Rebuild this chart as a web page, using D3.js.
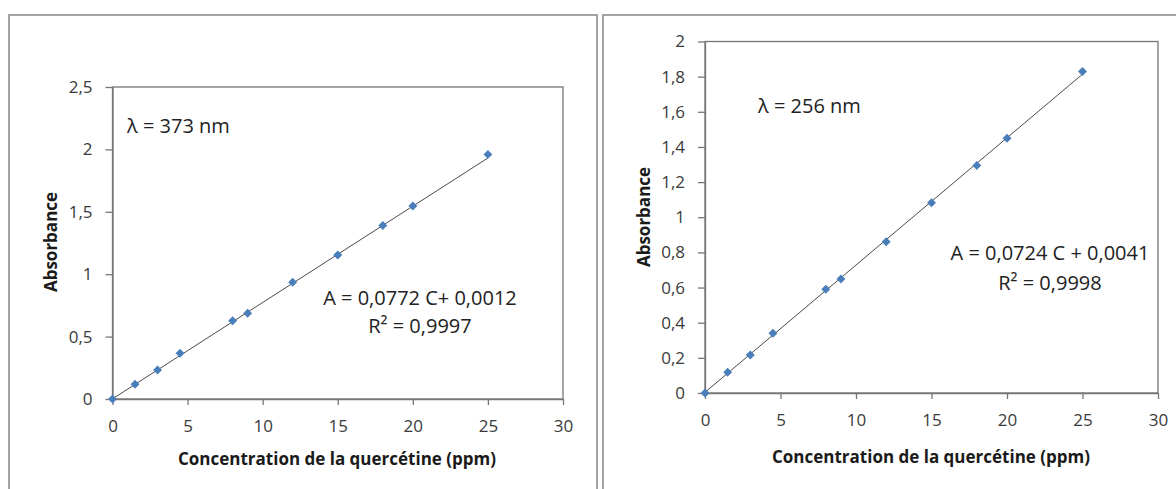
<!DOCTYPE html>
<html>
<head>
<meta charset="utf-8">
<script src="https://cdn.jsdelivr.net/npm/d3@7/dist/d3.min.js"></script>
<style>
  html, body { margin: 0; padding: 0; background: #fff; }
  svg { display: block; }
  text { font-family: "Open Sans", "Noto Sans", sans-serif; }
</style>
</head>
<body>
<svg id="chart" width="1176" height="489"></svg>
<script>
// ---- data ----
const concentration = [0, 1.5, 3, 4.5, 8, 9, 12, 15, 18, 20, 25];
const absorbance373 = [0, 0.118, 0.232, 0.366, 0.627, 0.687, 0.935, 1.154, 1.39, 1.547, 1.96];
const absorbance256 = [0, 0.118, 0.216, 0.34, 0.59, 0.649, 0.861, 1.083, 1.294, 1.45, 1.829];
const xTickValues = [0, 5, 10, 15, 20, 25, 30];
const yTicks373 = [0, 0.5, 1, 1.5, 2, 2.5];
const yTicks256 = [0, 0.2, 0.4, 0.6, 0.8, 1, 1.2, 1.4, 1.6, 1.8, 2];
const fit373 = [0.0772, 0.0012];   // slope, intercept
const fit256 = [0.0724, 0.0041];
const labels373 = ["λ = 373 nm", "A = 0,0772 C+ 0,0012", "R² = 0,9997"];
const labels256 = ["λ = 256 nm", "A = 0,0724 C + 0,0041", "R² = 0,9998"];
const xTitle = "Concentration de la quercétine (ppm)";
const yTitle = "Absorbance";

const svg = d3.select("#chart");
const fmt = d => String(d).replace(".", ",");

// outer chart boxes
svg.append("rect").attr("x", 9).attr("y", 15).attr("width", 588).attr("height", 490)
  .attr("fill", "#fff").attr("stroke", "#a3a3a3").attr("stroke-width", 2);
svg.append("rect").attr("x", 603).attr("y", 15).attr("width", 600).attr("height", 490)
  .attr("fill", "#fff").attr("stroke", "#a3a3a3").attr("stroke-width", 2);

function drawChart(cfg) {
  const x = d3.scaleLinear().domain([0, 30]).range([cfg.left, cfg.right]);
  const y = d3.scaleLinear().domain([0, cfg.yMax]).range([cfg.bottom, cfg.top]);
  const g = svg.append("g");

  // plot frame
  g.append("rect")
    .attr("x", x(0)).attr("y", y(cfg.yMax))
    .attr("width", x(30) - x(0)).attr("height", y(0) - y(cfg.yMax))
    .attr("fill", "none").attr("stroke", "#767676").attr("stroke-width", 1.3);

  const yAxis = g.append("g").attr("transform", `translate(${x(0)},0)`)
    .call(d3.axisLeft(y).tickValues(cfg.yTicks).tickFormat(fmt)
      .tickSize(7).tickSizeOuter(0).tickPadding(13));
  const xAxis = g.append("g").attr("transform", `translate(0,${y(0)})`)
    .call(d3.axisBottom(x).tickValues(xTickValues).tickFormat(fmt)
      .tickSize(6).tickSizeOuter(0).tickPadding(15));
  [xAxis, yAxis].forEach(a => {
    a.select(".domain").attr("stroke", "#767676").attr("stroke-width", 1.3);
    a.selectAll(".tick line").attr("stroke", "#767676").attr("stroke-width", 1.3);
    a.selectAll(".tick text").attr("fill", "#3a3a3a")
      .style("font-size", "17px").style("font-family", "'Open Sans', sans-serif");
  });

  // trend line
  const [m, b] = cfg.fit;
  g.append("line")
    .attr("x1", x(0)).attr("y1", y(b))
    .attr("x2", x(25)).attr("y2", y(m * 25 + b))
    .attr("stroke", "#4a4a4a").attr("stroke-width", 1);

  // markers
  const sym = d3.symbol().type(d3.symbolSquare).size(40);
  g.selectAll("path.pt").data(concentration.map((c, i) => [c, cfg.values[i]]))
    .join("path").attr("class", "pt")
    .attr("d", sym)
    .attr("transform", d => `translate(${x(d[0])},${y(d[1])}) rotate(45)`)
    .attr("fill", "#4a7ebb");

  // annotations
  g.append("text").attr("x", cfg.lambdaX).attr("y", cfg.lambdaY)
    .style("font-size", "20px").attr("fill", "#222").text(cfg.labels[0]);
  g.append("text").attr("x", cfg.eqX).attr("y", cfg.eqY).attr("text-anchor", "middle")
    .style("font-size", "20px").attr("fill", "#222").text(cfg.labels[1]);
  g.append("text").attr("x", cfg.eqX).attr("y", cfg.eqY + cfg.eqGap).attr("text-anchor", "middle")
    .style("font-size", "20px").attr("fill", "#222").text(cfg.labels[2]);

  // axis titles
  g.append("text").attr("x", cfg.xTitleX).attr("y", cfg.xTitleY).attr("text-anchor", "middle")
    .style("font-size", "17px").style("font-weight", "bold").attr("fill", "#1a1a1a")
    .text(xTitle);
  g.append("text")
    .attr("transform", `translate(${cfg.yTitleX},${cfg.yTitleY}) rotate(-90)`)
    .attr("text-anchor", "middle")
    .style("font-size", "17px").style("font-weight", "bold").attr("fill", "#1a1a1a")
    .text(yTitle);
}

drawChart({
  left: 112.5, right: 563, top: 87, bottom: 399, yMax: 2.5,
  yTicks: yTicks373, values: absorbance373, fit: fit373, labels: labels373,
  lambdaX: 127, lambdaY: 133, eqX: 420, eqY: 305, eqGap: 28,
  xTitleX: 337, xTitleY: 465, yTitleX: 57, yTitleY: 242
});
drawChart({
  left: 705, right: 1158, top: 41.5, bottom: 393, yMax: 2,
  yTicks: yTicks256, values: absorbance256, fit: fit256, labels: labels256,
  lambdaX: 758, lambdaY: 113, eqX: 1050, eqY: 260, eqGap: 30,
  xTitleX: 931, xTitleY: 463, yTitleX: 650, yTitleY: 217
});
</script>
</body>
</html>
